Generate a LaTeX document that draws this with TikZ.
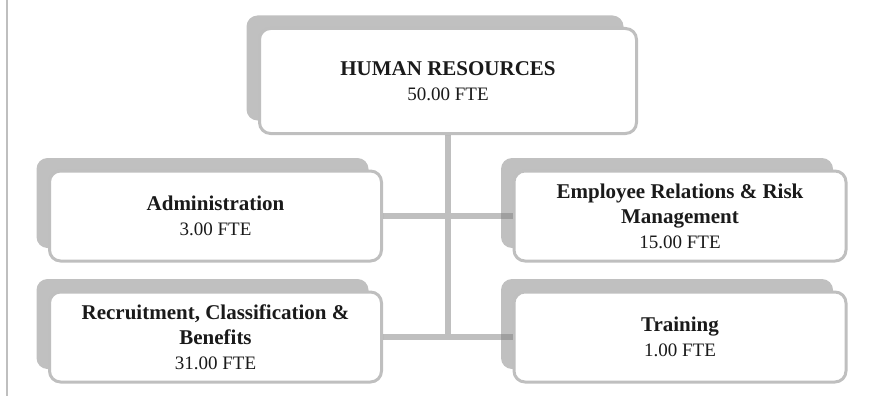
\documentclass[tikz,border=0pt]{standalone}
\usepackage{fontspec}
\setmainfont{Liberation Serif}
\usepackage{xcolor}
\usetikzlibrary{shadows}
\definecolor{org-line}{HTML}{BFBFBF}
\definecolor{org-shade}{HTML}{C0C0C0}
\definecolor{org-text}{HTML}{1A1A1A}
\newcommand{\fte}[1]{{\fontsize{19}{22}\selectfont #1}}

\begin{document}
\begin{tikzpicture}[x=1pt, y=-1pt,
    unit/.style={draw=org-line, line width=3pt, fill=white, rounded corners=11pt,
                 minimum width=332pt, minimum height=90pt, align=center,
                 text=org-text, font=\fontsize{21}{25}\selectfont,
                 general shadow={fill=org-shade, shadow xshift=-13pt, shadow yshift=13pt}},
    link/.style={draw=black!50, draw opacity=0.5, line width=5.5pt},
    rule/.style={org-line, line width=2pt},
  ]
    \useasboundingbox (0,0) rectangle (883,396);

    % Page rule
    \draw[rule] (7,0) -- (7,396);

    % Head
    \node[unit, minimum width=377pt, minimum height=105pt] (hr) at (448,81)
          {\textbf{HUMAN RESOURCES}\\\fte{50.00 FTE}};

    % Sections
    \node[unit] (admin)    at (215.5,216) {\textbf{Administration}\\\fte{3.00 FTE}};
    \node[unit] (emprel)   at (680,216)
          {\textbf{Employee Relations \& Risk}\\\textbf{Management}\\\fte{15.00 FTE}};
    \node[unit] (recruit)  at (215.5,337)
          {\textbf{Recruitment, Classification \&}\\\textbf{Benefits}\\\fte{31.00 FTE}};
    \node[unit] (training) at (680,337) {\textbf{Training}\\\fte{1.00 FTE}};

    % Links
    \draw[link] (hr.south) -- (hr.south |- recruit.east)
                (admin.east) -- (emprel.west)
                (recruit.east) -- (training.west);
  \end{tikzpicture}
\end{document}
